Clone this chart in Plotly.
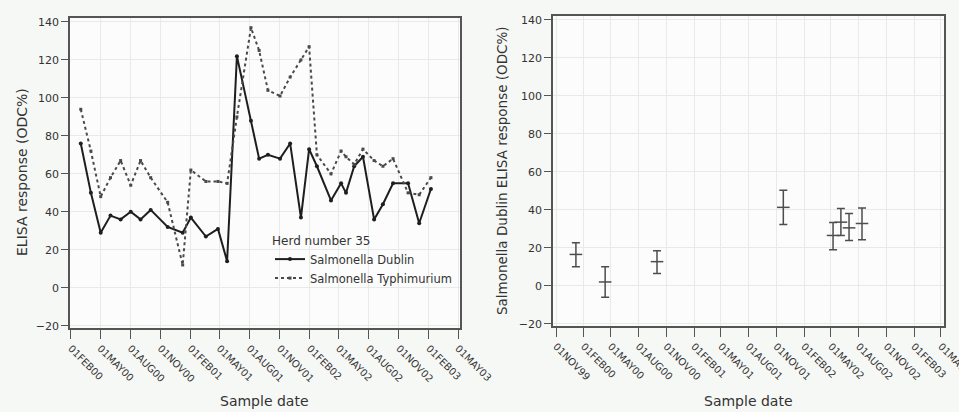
import datetime as dt
import plotly.graph_objects as go

# ---- Herd 35: ELISA responses over time ----
sample_dates = [
    "2000-03-02", "2000-04-02", "2000-05-02", "2000-06-01", "2000-07-02", "2000-08-02",
    "2000-09-01", "2000-10-02", "2000-11-23", "2001-01-08", "2001-02-02", "2001-03-20",
    "2001-04-26", "2001-05-24", "2001-06-23", "2001-08-05", "2001-08-30", "2001-09-26",
    "2001-11-02", "2001-12-03", "2002-01-05", "2002-01-30", "2002-02-23", "2002-04-07",
    "2002-05-08", "2002-05-23", "2002-06-17", "2002-07-14", "2002-08-17", "2002-09-13",
    "2002-10-14", "2002-11-29", "2003-01-02", "2003-02-07",
]
dublin = [
    76, 50, 29, 38, 36, 40,
    36, 41, 32, 29, 37, 27,
    31, 14, 122, 88, 68, 70,
    68, 76, 37, 73, 64, 46,
    55, 50, 64, 69, 36, 44,
    55, 55, 34, 52,
]
typhimurium = [
    94, 72, 48, 58, 67, 54,
    67, 58, 45, 12, 62, 56,
    56, 55, 90, 137, 125, 104,
    101, 111, 120, 127, 70, 60,
    72, 69, 65, 73, 67, 64,
    68, 50, 49, 58,
]

# ---- Bulk-tank Salmonella Dublin ELISA: mean with interval ----
bulk_dates = [
    "2000-01-06", "2000-04-12", "2000-10-01", "2001-11-24",
    "2002-05-08", "2002-06-03", "2002-06-30", "2002-08-12",
]
bulk_mean = [16.5, 2.0, 12.7, 41.3, 26.5, 33.5, 30.5, 32.8]
bulk_low = [10.0, -6.0, 6.4, 32.3, 19.0, 26.5, 23.8, 24.3]
bulk_high = [22.7, 10.0, 18.5, 50.3, 33.3, 40.7, 38.0, 41.0]

left_ticks = ["01FEB00", "01MAY00", "01AUG00", "01NOV00", "01FEB01", "01MAY01", "01AUG01",
              "01NOV01", "01FEB02", "01MAY02", "01AUG02", "01NOV02", "01FEB03", "01MAY03"]
right_ticks = ["01NOV99"] + left_ticks
y_ticks = [-20, 0, 20, 40, 60, 80, 100, 120, 140]


def tick_date(label):
    return dt.datetime.strptime(label.title(), "%d%b%y").strftime("%Y-%m-%d")


FONT = "DejaVu Sans"
INK = "#333333"
FRAME = "#555555"
GRID = "#e7ebe7"

fig = go.Figure()

fig.add_trace(go.Scatter(
    x=sample_dates, y=dublin, name="Salmonella Dublin",
    mode="lines+markers", line=dict(color="#1e1e1e", width=2),
    marker=dict(color="#1e1e1e", size=4), xaxis="x", yaxis="y",
))
fig.add_trace(go.Scatter(
    x=sample_dates, y=typhimurium, name="Salmonella Typhimurium",
    mode="lines+markers", line=dict(color="#4a4a4a", width=2, dash="dot"),
    marker=dict(color="#4a4a4a", size=3, symbol="square"), xaxis="x", yaxis="y",
))

fig.add_trace(go.Scatter(
    x=bulk_dates, y=bulk_mean, mode="markers", showlegend=False,
    marker=dict(symbol="line-ew", size=9, line=dict(color="#4d4d4d", width=1.5)),
    error_y=dict(
        type="data", symmetric=False,
        array=[h - m for h, m in zip(bulk_high, bulk_mean)],
        arrayminus=[m - l for m, l in zip(bulk_mean, bulk_low)],
        color="#4d4d4d", thickness=1.5, width=4,
    ),
    xaxis="x2", yaxis="y2",
))

W, H = 959, 412


def px_x(v):
    return v / W


def px_y(v):
    return 1 - v / H


common_x = dict(
    type="date", tickangle=45, ticks="outside", ticklen=9, tickcolor=FRAME, tickwidth=1.2,
    showline=True, linecolor=FRAME, linewidth=1.6, mirror=True,
    showgrid=True, gridcolor=GRID, gridwidth=1, zeroline=False,
    tickfont=dict(family=FONT, size=10, color=INK), automargin=False,
    ticklabeloverflow="allow",
)
common_y = dict(
    range=[-21.2, 142.1], tickvals=y_ticks, ticks="outside", ticklen=7, tickcolor=FRAME,
    tickwidth=1.2, showline=True, linecolor=FRAME, linewidth=1.6, mirror=True,
    showgrid=True, gridcolor=GRID, gridwidth=1, zeroline=False,
    tickfont=dict(family=FONT, size=11, color=INK), automargin=False,
)


def label(text, x, y, size, angle=0):
    return dict(text=text, x=px_x(x), y=px_y(y), xref="paper", yref="paper",
                xanchor="center", yanchor="middle", textangle=angle, showarrow=False,
                font=dict(family=FONT, size=size, color=INK))


fig.update_layout(
    width=W, height=H,
    margin=dict(l=0, r=0, t=0, b=0),
    paper_bgcolor="#f6f8f6",
    plot_bgcolor="#fbfcfb",
    font=dict(family=FONT, color=INK),
    xaxis=dict(common_x, domain=[px_x(70), px_x(460)],
               range=["2000-01-29", "2003-05-07"],
               tickvals=[tick_date(t) for t in left_ticks], ticktext=left_ticks),
    yaxis=dict(common_y, domain=[px_y(328), px_y(18)]),
    xaxis2=dict(common_x, domain=[px_x(553), px_x(944)],
                range=["1999-10-22", "2003-05-11"],
                tickvals=[tick_date(t) for t in right_ticks], ticktext=right_ticks,
                anchor="y2"),
    yaxis2=dict(common_y, domain=[px_y(326), px_y(16)], anchor="x2"),
    legend=dict(
        x=px_x(270), y=px_y(229), xanchor="left", yanchor="top",
        bgcolor="rgba(0,0,0,0)", borderwidth=0, itemwidth=30,
        title=dict(text="Herd number 35", font=dict(family=FONT, size=12, color=INK)),
        font=dict(family=FONT, size=11.5, color=INK),
        tracegroupgap=0,
    ),
    annotations=[
        label("ELISA response (ODC%)", 22, 172, 14, -90),
        label("Salmonella Dublin ELISA response (ODC%)", 502, 171, 13.5, -90),
        label("Sample date", 264, 401, 14),
        label("Sample date", 748, 401, 14),
    ],
)

fig.write_html("out.html")
